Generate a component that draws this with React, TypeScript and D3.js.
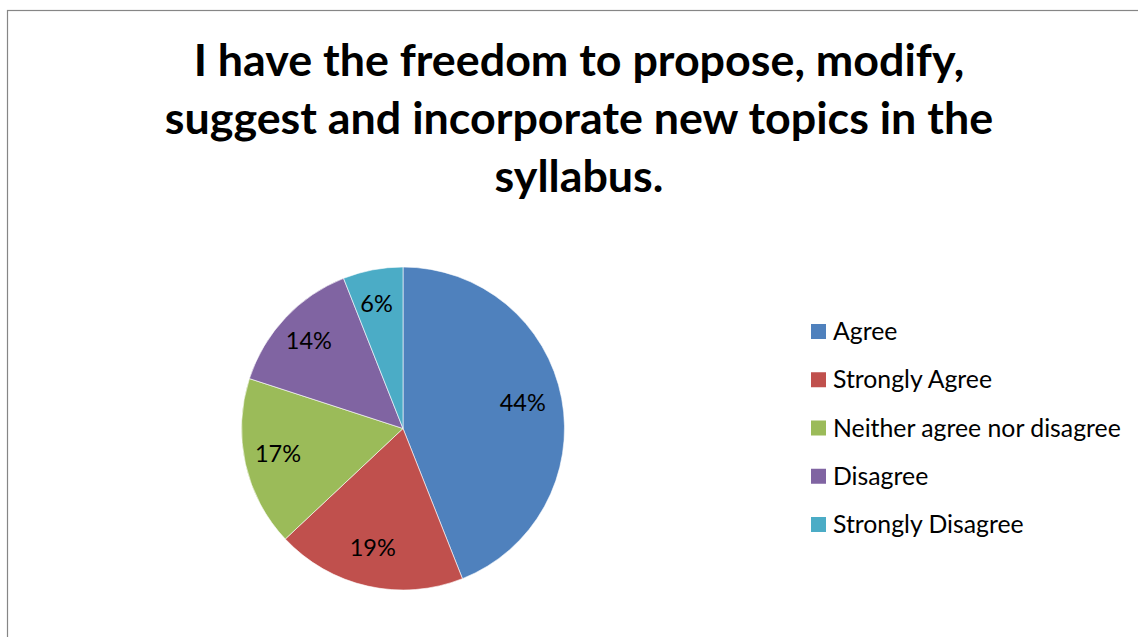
import React from "react";
import * as d3 from "d3";

const categories = ["Agree", "Strongly Agree", "Neither agree nor disagree", "Disagree", "Strongly Disagree"];
const values = [44, 19, 17, 14, 6];
const colors = ["#4F81BD", "#C0504D", "#9BBB59", "#8064A2", "#4BACC6"];
const titleLines = [
  "I have the freedom to propose, modify,",
  "suggest and incorporate new topics in the",
  "syllabus.",
];

const W = 1138;
const H = 637;
const FONT = "Lato, 'Open Sans', sans-serif";

export default function App() {
  const cx = 403;
  const cy = 428.5;
  const r = 161.5;
  const pie = d3.pie<number>().sort(null).value((d) => d)(values);
  const arc = d3.arc<d3.PieArcDatum<number>>().innerRadius(0).outerRadius(r);
  const labelArc = d3.arc<d3.PieArcDatum<number>>().innerRadius(125).outerRadius(125);
  const total = d3.sum(values);
  const legendY = d3.scaleLinear().domain([0, categories.length - 1]).range([340, 533]);

  return (
    <svg width={W} height={H} style={{ position: "absolute", left: 0, top: 0, background: "#fff" }}>
      <rect x={7.5} y={10.5} width={W + 20} height={H + 20} fill="#fff" stroke="#868686" strokeWidth={1.2} />
      <g fontFamily={FONT} fontWeight={700} fontSize={44.8} textAnchor="middle" fill="#000">
        {titleLines.map((t, i) => (
          <text key={i} x={579} y={76 + i * 58}>{t}</text>
        ))}
      </g>
      <g transform={`translate(${cx},${cy})`}>
        {pie.map((p, i) => (
          <path key={i} d={arc(p) || ""} fill={colors[i]} stroke="#fff" strokeWidth={0.6} />
        ))}
        {pie.map((p, i) => {
          const [x, y] = labelArc.centroid(p);
          return (
            <text key={"l" + i} x={x - 3} y={y + 6} textAnchor="middle" fontFamily={FONT} fontSize={23.5} fill="#000">
              {Math.round((p.value / total) * 100) + "%"}
            </text>
          );
        })}
      </g>
      <g fontFamily={FONT} fontSize={24.8} fill="#000">
        {categories.map((c, i) => (
          <g key={i}>
            <rect x={811} y={legendY(i) - 16} width={15} height={15} fill={colors[i]} />
            <text x={833} y={legendY(i)}>{c}</text>
          </g>
        ))}
      </g>
    </svg>
  );
}
